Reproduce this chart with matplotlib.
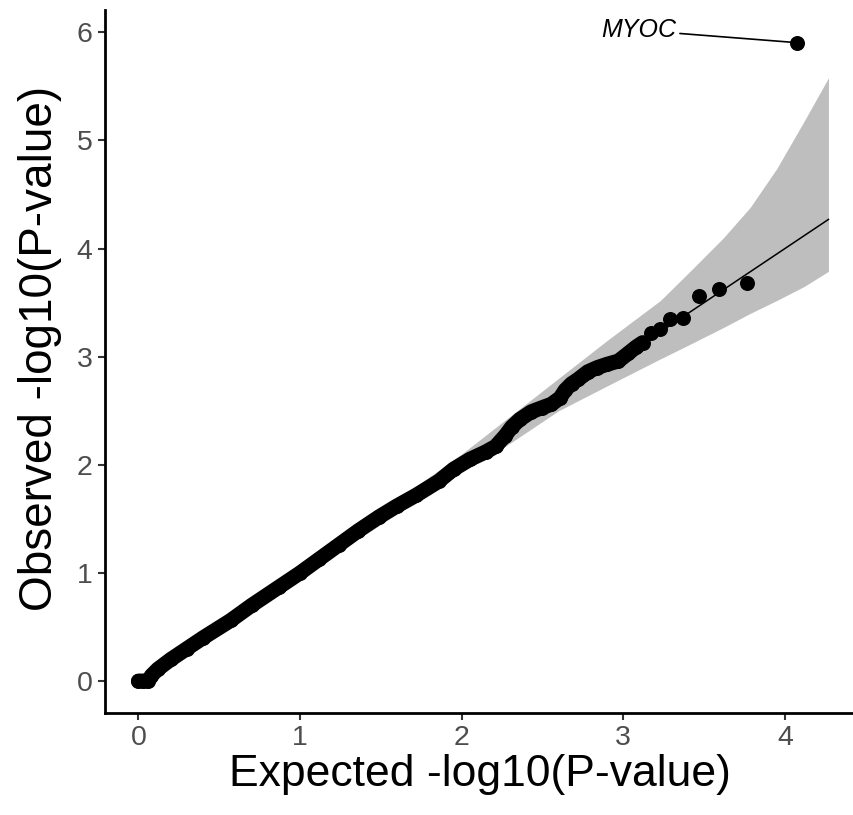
import numpy as np
import matplotlib
matplotlib.use('Agg')
import matplotlib.pyplot as plt

plt.rcParams['font.family'] = ['Liberation Sans', 'DejaVu Sans']

# QQ points: expected vs observed -log10(P)
expected = [0.0, 0.03, 0.06, 0.08, 0.12, 0.2, 0.3, 0.4, 0.57, 0.7, 0.87, 1.0,
            1.12, 1.24, 1.36, 1.49, 1.6, 1.72, 1.86, 1.95, 2.05, 2.15, 2.21,
            2.27, 2.31, 2.36, 2.43, 2.5, 2.555, 2.61, 2.64, 2.68, 2.72, 2.78,
            2.84, 2.90, 2.97, 3.03, 3.08, 3.12, 3.17, 3.23, 3.29, 3.37, 3.47,
            3.594, 3.766, 4.074]
observed = [0.0, 0.0, 0.0, 0.05, 0.11, 0.20, 0.30, 0.40, 0.56, 0.70, 0.87, 1.0,
            1.13, 1.26, 1.39, 1.52, 1.62, 1.72, 1.85, 1.96, 2.05, 2.12, 2.17,
            2.27, 2.35, 2.42, 2.49, 2.53, 2.56, 2.62, 2.69, 2.75, 2.79, 2.86,
            2.90, 2.93, 2.96, 3.03, 3.09, 3.13, 3.22, 3.26, 3.35, 3.36, 3.56,
            3.63, 3.68, 5.905]

# confidence band
band_x = [0.0, 1.0, 2.0, 2.3, 2.6, 2.9, 3.23, 3.42, 3.62, 3.785, 3.95, 4.12, 4.27]
band_lo = [0.0, 0.97, 1.93, 2.2, 2.5, 2.73, 2.98, 3.12, 3.27, 3.40, 3.52, 3.65, 3.79]
band_hi = [0.0, 1.04, 2.1, 2.45, 2.8, 3.15, 3.52, 3.80, 4.10, 4.38, 4.74, 5.18, 5.58]

diag = [0.0, 4.27]
top_gene = 'MYOC'

fig = plt.figure(figsize=(8.54, 8.15), dpi=100)
ax = fig.add_axes([105 / 854, 1 - 712.5 / 815, 1 - 105 / 854, (712.5 - 10) / 815])

ax.fill_between(band_x, band_lo, band_hi, color='#BEBEBE', lw=0, zorder=1)
ax.plot(diag, diag, color='black', lw=1.1, zorder=2)

ex = np.array(expected)
ob = np.array(observed)
dense = ex <= 3.12
# overlapping points form a solid stroke
ax.plot(ex[dense], ob[dense], color='black', lw=10.8, solid_capstyle='round',
        solid_joinstyle='round', zorder=3)
ax.plot(ex, ob, 'o', color='black', ms=10.8, mew=0, zorder=4)

ax.annotate(top_gene, xy=(ex[-1], ob[-1]), xytext=(3.325, 6.02),
            ha='right', va='center', fontsize=18, style='italic',
            arrowprops=dict(arrowstyle='-', color='black', lw=1.2,
                            shrinkA=1, shrinkB=0), zorder=5)

ax.set_xlim(-0.207, 4.428)
ax.set_ylim(-0.291, 6.207)
ax.set_xticks([0, 1, 2, 3, 4])
ax.set_yticks([0, 1, 2, 3, 4, 5, 6])

for s in ['top', 'right']:
    ax.spines[s].set_visible(False)
for s in ['left', 'bottom']:
    ax.spines[s].set_linewidth(2)
    ax.spines[s].set_color('black')

ax.tick_params(axis='both', length=5, width=1.5, color='#333333',
               labelsize=20.5, labelcolor='#4D4D4D', pad=4)
ax.set_xlabel('Expected -log10(P-value)', fontsize=32, labelpad=2)
ax.set_ylabel('Observed -log10(P-value)', fontsize=33)
ax.yaxis.set_label_coords(-0.058, 0.518)

fig.savefig('out.png', dpi=100)
